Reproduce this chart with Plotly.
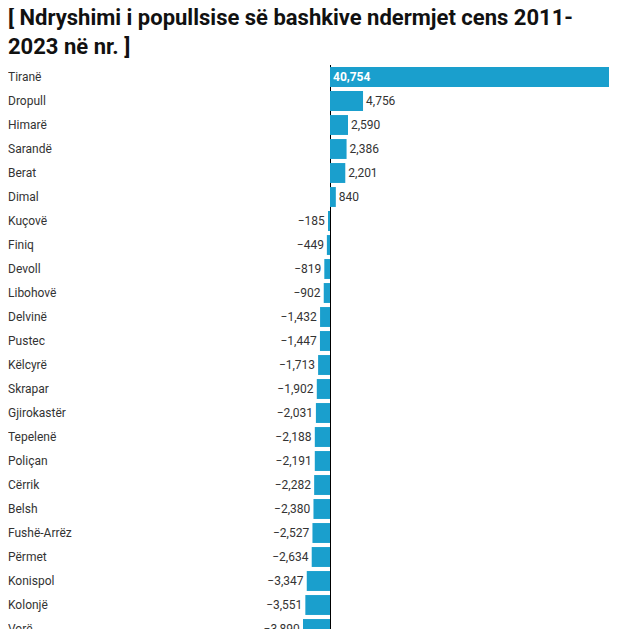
import plotly.graph_objects as go

# data (population change 2011-2023, by municipality)
bashkite = ["Tiranë", "Dropull", "Himarë", "Sarandë", "Berat", "Dimal", "Kuçovë", "Finiq",
            "Devoll", "Libohovë", "Delvinë", "Pustec", "Këlcyrë", "Skrapar", "Gjirokastër",
            "Tepelenë", "Poliçan", "Cërrik", "Belsh", "Fushë-Arrëz", "Përmet", "Konispol",
            "Kolonjë", "Vorë"]
ndryshimi = [40754, 4756, 2590, 2386, 2201, 840, -185, -449,
             -819, -902, -1432, -1447, -1713, -1902, -2031,
             -2188, -2191, -2282, -2380, -2527, -2634, -3347,
             -3551, -3890]

BLUE = "#1a9fcd"
TXT = "#333333"
FONT = "Roboto"

labels = [f"{v:,}".replace("-", "\u2212") for v in ndryshimi]
labels[0] = f"<b>{labels[0]}</b>"
positions = ["inside"] + ["outside"] * (len(ndryshimi) - 1)
colors = ["white"] + [TXT] * (len(ndryshimi) - 1)

# the page body adds an 8px margin, so the figure is laid out 8px up/left
xmax = max(ndryshimi)
xmin = -xmax * 322 / 283

fig = go.Figure(go.Bar(
    x=ndryshimi, y=bashkite, orientation="h",
    marker=dict(color=BLUE, line=dict(width=0)),
    text=labels, textposition=positions, insidetextanchor="start",
    textfont=dict(family=FONT, size=12, color=colors),
    constraintext="none", cliponaxis=True,
    hoverinfo="skip",
))

for name in bashkite:
    fig.add_annotation(x=0, xref="paper", y=name, yref="y", text=name,
                       xanchor="left", yanchor="middle", xshift=-2, showarrow=False,
                       font=dict(family=FONT, size=12, color=TXT))

fig.add_annotation(x=0, xref="paper", y=1, yref="paper", yanchor="bottom", xanchor="left",
                   yshift=4, xshift=-2, showarrow=False, align="left",
                   text="<b>[ Ndryshimi i popullsise së bashkive ndermjet cens 2011-<br>2023 në nr. ]</b>",
                   font=dict(family=FONT, size=22, color="#111111"))

fig.update_layout(
    width=609, height=621,
    margin=dict(l=0, r=4, t=57, b=0),
    paper_bgcolor="white", plot_bgcolor="white",
    bargap=0.17, showlegend=False,
    xaxis=dict(range=[xmin, xmax], showgrid=False, showticklabels=False,
               zeroline=True, zerolinecolor="black", zerolinewidth=1, fixedrange=True),
    yaxis=dict(type="category", categoryarray=bashkite, range=[len(bashkite) - 1, -0.5],
               showgrid=False, showticklabels=False, zeroline=False, fixedrange=True),
)

fig.write_html("out.html")
